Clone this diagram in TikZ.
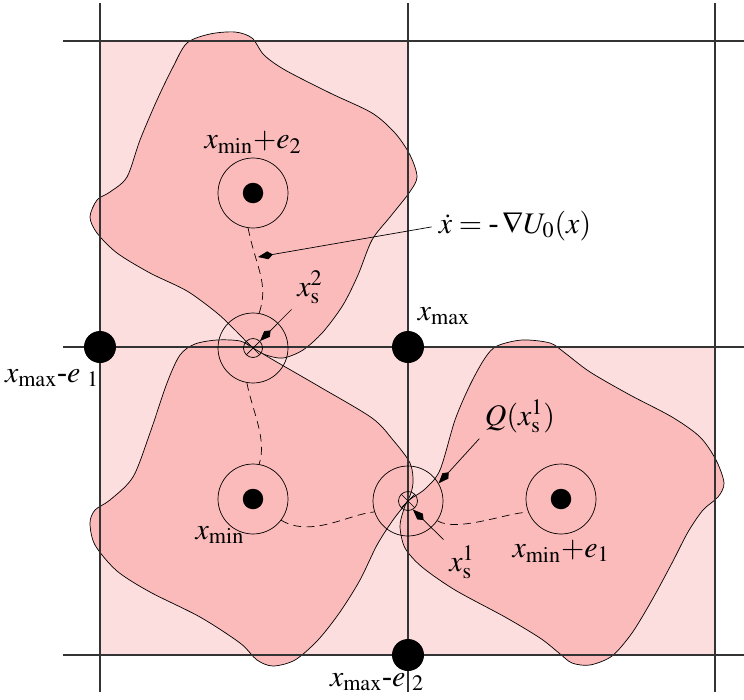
\documentclass[tikz,border=0pt]{standalone}
\usepackage{mathptmx}
\usepackage[no-math]{fontspec}
\setmainfont{Liberation Serif}
\usetikzlibrary{positioning,arrows.meta}
\definecolor{CellPink}{HTML}{FDDEDF}
\definecolor{WellPink}{HTML}{FCBBBB}

\begin{document}
\begin{tikzpicture}[x=0.02cm,y=-0.02cm,>=stealth,font=\fontsize{17}{20}\selectfont]
  \tikzstyle{well}=[circle,draw,thin,minimum size=1.4cm,inner sep=0pt]
  \tikzstyle{mindot}=[circle,fill,minimum size=0.41cm,inner sep=0pt]
  \tikzstyle{maxdot}=[circle,fill,minimum size=0.64cm,inner sep=0pt]
  \tikzstyle{saddle}=[circle,draw,thin,minimum size=0.38cm,inner sep=0pt,
    path picture={\draw (path picture bounding box.south west)--(path picture bounding box.north east)
      (path picture bounding box.north west)--(path picture bounding box.south east);}]
  \tikzstyle{basin}=[draw,thin,fill=WellPink]
  \tikzstyle{gridline}=[line width=0.7pt,black!80]
  \tikzstyle{lbl}=[inner sep=1pt]
  \tikzstyle{lead}=[-{Kite[length=0.3cm,width=0.16cm,inset=0.1cm]},thin,shorten <=3pt]
  \tikzstyle{flow}=[thin,dash pattern=on 4.5pt off 3pt]
  \useasboundingbox (0,0) rectangle (744,700);
  % cells
  \fill[CellPink] (100,41) rectangle (408,655);
  \fill[CellPink] (408,347) rectangle (715,655);
  % basins
  \draw[basin] plot[smooth cycle] coordinates {(253,348) (235,330) (217,313) (187,291)
    (150,273) (117,253) (97,233) (90,217) (97,200) (110,192) (127,177) (140,140)
    (157,100) (173,67) (187,43) (210,34) (235,32) (252,38) (264,55) (285,70) (330,93)
    (372,113) (395,133) (410,155) (417,177) (409,193) (390,217) (372,240) (358,275)
    (343,305) (323,332) (303,350) (283,358) (266,355)};
  \draw[basin] plot[smooth cycle] coordinates {(253,348) (275,361) (320,387) (372,418)
    (393,440) (410,463) (413,483) (408,500) (393,520) (377,545) (360,580) (340,612)
    (318,640) (295,660) (273,666) (257,660) (240,643) (200,617) (150,592) (117,571)
    (95,545) (90,523) (95,510) (110,500) (133,477) (150,433) (167,383) (180,355)
    (195,344) (217,340) (240,341)};
  \draw[basin] plot[smooth cycle] coordinates {(408,501) (425,489) (440,470) (455,420)
    (470,385) (485,358) (497,346) (522,340) (550,343) (565,353) (590,372) (630,395)
    (672,417) (700,437) (716,460) (724,483) (718,497) (703,510) (688,532) (672,563)
    (652,600) (632,633) (612,656) (590,665) (572,663) (559,653) (540,638) (505,617)
    (455,590) (422,567) (405,548) (400,527) (403,512)};
  % lattice
  \foreach \gx in {100,408,715} \draw[gridline] (\gx,3) -- (\gx,692);
  \foreach \gy in {41,347,655} \draw[gridline] (63,\gy) -- (744,\gy);
  % wells and saddles
  \node[well] (wtop) at (253,193) {};
  \node[mindot] (mtop) at (253,193) {};
  \node[well] (wmin) at (253,499) {};
  \node[mindot] (mmin) at (253,499) {};
  \node[well] (wright) at (561,499) {};
  \node[mindot] (mright) at (561,499) {};
  \node[well] (wsad2) at (253,348) {};
  \node[saddle] (s2) at (253,348) {};
  \node[well] (wsad1) at (408,501) {};
  \node[saddle] (s1) at (408,501) {};
  \node[maxdot] (pmaxe1) at (100,347) {};
  \node[maxdot] (pmax) at (408,347) {};
  \node[maxdot] (pmaxe2) at (408,655) {};
  % gradient lines
  \draw[flow] (wtop.-98) .. controls +(8,40) and +(10,-30) .. (wsad2.80);
  \draw[flow] (wsad2.-100) .. controls +(6,30) and +(8,-25) .. (wmin.80);
  \draw[flow] (wmin.-37) .. controls +(30,18) and +(-25,2) .. (wsad1.198);
  \draw[flow] (wsad1.-34) .. controls +(20,12) and +(-20,0) .. (wright.202);
  % labels
  \node[lbl,above=1pt of wtop] (ltop) {$x_{\mathrm{min}}{+}e_{2}$};
  \node[lbl] (lflow) at (515,226) {$\dot{x} = \mbox{-}\,\nabla U_{0}(x)$};
  \node[lbl] (lsad2) at (310,287) {$x_{\mathrm{s}}^{2}$};
  \node[lbl] (lmax) at (444,316) {$x_{\mathrm{max}}$};
  \node[lbl] (lmaxe1) at (52,378) {$x_{\mathrm{max}}\mbox{-}e\;{}_{1}$};
  \node[lbl] (lmin) at (220,535) {$x_{\mathrm{min}}$};
  \node[lbl] (lq) at (520,416) {$Q(x_{\mathrm{s}}^{1})$};
  \node[lbl] (lsad1) at (462,562) {$x_{\mathrm{s}}^{1}$};
  \node[lbl,below=2pt of wright] (lrmin) {$x_{\mathrm{min}}{+}e_{1}$};
  \node[lbl] (lmaxe2) at (377,682) {$x_{\mathrm{max}}\mbox{-}e\;{}_{2}$};
  % pointers
  \coordinate (pflow) at (258,257);
  \draw[lead] (lflow.west) -- (pflow);
  \draw[lead] (lsad2.south west) -- (s2.north east);
  \draw[lead] (lq.south west) -- (wsad1.30);
  \draw[lead] (lsad1.north west) -- (s1.-60);
\end{tikzpicture}
\end{document}
